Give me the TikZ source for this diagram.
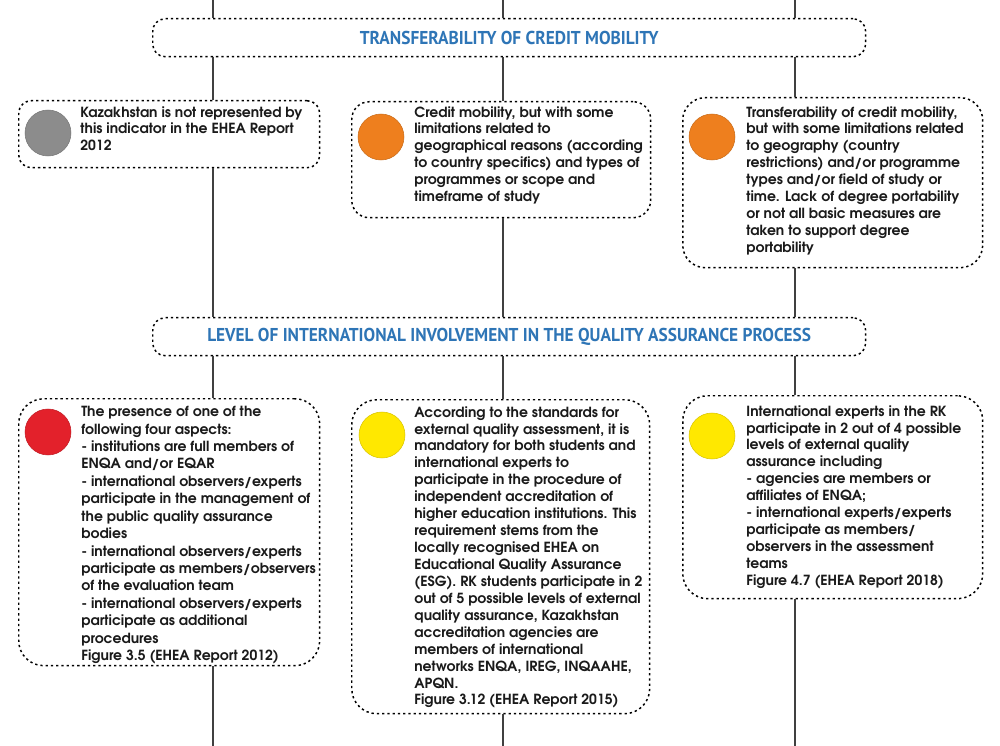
\documentclass[tikz,border=0pt]{standalone}
\usepackage{fontspec}
\setmainfont{texgyreadventor}[Extension=.otf, UprightFont=*-regular, BoldFont=*-bold]
\newfontfamily\headfont{PT Sans}[FakeStretch=0.93]
\definecolor{headblue}{HTML}{2E75B6}
\definecolor{stemgray}{HTML}{404040}
\definecolor{inkgray}{HTML}{1A1A1A}
\definecolor{dotgray}{HTML}{8C8C8C}
\definecolor{dotorange}{HTML}{EE7F1E}
\definecolor{dotred}{HTML}{E3212B}
\definecolor{dotyellow}{HTML}{FFE800}
\tikzset{
  card/.style={draw=black, fill=white, line width=0.85pt,
    dash pattern=on 1.3pt off 1.7pt, inner sep=0pt, anchor=north west},
  banner/.style={card, rounded corners=0.25cm, minimum width=14.26cm, minimum height=0.76cm},
  stem/.style={stemgray, line width=1.1pt},
  blob/.style={circle, fill=#1, draw=#1!85!black, line width=0.3pt, minimum size=0.92cm, inner sep=0pt},
  txt/.style={anchor=north west, inner sep=0pt, align=left, text=inkgray,
    font=\bfseries\fontsize{7.95}{9.64}\selectfont},
  headtxt/.style={text=headblue, font=\headfont\bfseries\fontsize{10.6}{12}\selectfont}
}
\begin{document}
\begin{tikzpicture}[x=0.02cm, y=-0.02cm]
\useasboundingbox (0,0) rectangle (1000,746);
% banners
\node[banner] (ban1) at (152,18) {};
\node[headtxt] (ban1txt) at (ban1.center) {TRANSFERABILITY OF CREDIT MOBILITY};
\node[banner] (ban2) at (152,317) {};
\node[headtxt] (ban2txt) at (ban2.center) {LEVEL OF INTERNATIONAL INVOLVEMENT IN THE QUALITY ASSURANCE PROCESS};
% first row
\node[card, rounded corners=0.25cm, minimum width=6.02cm, minimum height=1.34cm] (a1) at (18,100) {};
\node[card, rounded corners=0.35cm, minimum width=5.98cm, minimum height=2.32cm] (a2) at (351,101) {};
\node[card, rounded corners=0.45cm, minimum width=6cm, minimum height=3.4cm] (a3) at (682,97) {};
\node[blob=dotgray] (a1dot) at (48,133) {};
\node[blob=dotorange] (a2dot) at (381,137) {};
\node[blob=dotorange] (a3dot) at (712,137) {};
\node[txt] (a1txt) at (80,106) {Kazakhstan is not represented by\\ this indicator in the EHEA Report\\ 2012};
\node[txt] (a2txt) at (414,106) {Credit mobility, but with some\\ limitations related to\\ geographical reasons (according\\ to country specifics) and types of\\ programmes or scope and\\ timeframe of study};
\node[txt] (a3txt) at (746,106) {Transferability of credit mobility,\\ but with some limitations related\\ to geography (country\\ restrictions) and/or programme\\ types and/or field of study or\\ time. Lack of degree portability\\ or not all basic measures are\\ taken to support degree\\ portability};
% second row
\node[card, rounded corners=0.5cm, minimum width=6.02cm, minimum height=5.34cm] (b1) at (18,398) {};
\node[card, rounded corners=0.5cm, minimum width=5.96cm, minimum height=6.28cm] (b2) at (351,399) {};
\node[card, rounded corners=0.5cm, minimum width=6cm, minimum height=4.06cm] (b3) at (682,395) {};
\node[blob=dotred] (b1dot) at (48,432) {};
\node[blob=dotyellow] (b2dot) at (382,435) {};
\node[blob=dotyellow] (b3dot) at (712,436) {};
\node[txt, font=\bfseries\fontsize{7.95}{9.92}\selectfont] (b1txt) at (81,406) {The presence of one of the\\ following four aspects:\\ - institutions are full members of\\ ENQA and/or EQAR\\ - international observers/experts\\ participate in the management of\\ the public quality assurance\\ bodies\\ - international observers/experts\\ participate as members/observers\\ of the evaluation team\\ - international observers/experts\\ participate as additional\\ procedures\\ Figure 3.5 (EHEA Report 2012)};
\node[txt] (b2txt) at (414,406) {According to the standards for\\ external quality assessment, it is\\ mandatory for both students and\\ international experts to\\ participate in the procedure of\\ independent accreditation of\\ higher education institutions. This\\ requirement stems from the\\ locally recognised EHEA on\\ Educational Quality Assurance\\ (ESG). RK students participate in 2\\ out of 5 possible levels of external\\ quality assurance, Kazakhstan\\ accreditation agencies are\\ members of international\\ networks ENQA, IREG, INQAAHE,\\ APQN.\\ Figure 3.12 (EHEA Report 2015)};
\node[txt] (b3txt) at (746,405) {International experts in the RK\\ participate in 2 out of 4 possible\\ levels of external quality\\ assurance including\\ - agencies are members or\\ affiliates of ENQA;\\ - international experts/experts\\ participate as members/\\ observers in the assessment\\ teams\\ Figure 4.7 (EHEA Report 2018)};
% stems
\coordinate (top1) at (213,0);   \coordinate (bot1) at (213,746);
\coordinate (top2) at (503,0);   \coordinate (bot2) at (503,746);
\coordinate (top3) at (795,0);   \coordinate (bot3) at (795,746);
\foreach \i/\a/\b in {1/a1/b1, 2/a2/b2, 3/a3/b3}{
  \draw[stem] (top\i) -- (top\i |- ban1.north);
  \draw[stem] (top\i |- ban1.south) -- (top\i |- \a.north);
  \draw[stem] (top\i |- \a.south) -- (top\i |- ban2.north);
  \draw[stem] (top\i |- ban2.south) -- (top\i |- \b.north);
  \draw[stem] (top\i |- \b.south) -- (bot\i);
}
\end{tikzpicture}
\end{document}
